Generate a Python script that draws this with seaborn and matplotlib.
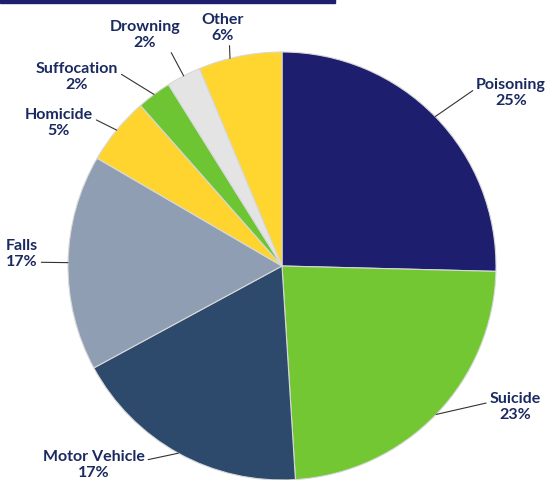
import numpy as np
import matplotlib
matplotlib.use("Agg")
import matplotlib.pyplot as plt
import seaborn as sns

sns.set_theme(style="white")
plt.rcParams['font.family'] = ['Lato', 'DejaVu Sans']

categories = ["Poisoning", "Suicide", "Motor Vehicle", "Falls", "Homicide",
              "Suffocation", "Drowning", "Other"]
values = [25.4, 23.6, 18.1, 16.3, 5.1, 2.6, 2.6, 6.3]
pct_labels = ["25%", "23%", "17%", "17%", "5%", "2%", "2%", "6%"]
colors = ["#1E1E6E", "#72C732", "#2D4A6C", "#8F9EB2", "#FFD42F",
          "#6DC534", "#E4E4E4", "#FFD530"]

W, H = 548, 481
fig = plt.figure(figsize=(W / 100, H / 100), dpi=100)
cx, cy, r = 282, 267, 214
ax = fig.add_axes([(cx - r) / W, (H - cy - r) / H, 2 * r / W, 2 * r / H])

wedges, _ = ax.pie(values, colors=colors, startangle=90, counterclock=False,
                   radius=1.0,
                   wedgeprops=dict(edgecolor="#d8d8d8", linewidth=0.8))
ax.set_xlim(-1, 1)
ax.set_ylim(-1, 1)
ax.axis("off")

# decorative top bar
fig.add_artist(plt.Rectangle((0, 1 - 4 / H), 335 / W, 4 / H,
                             transform=fig.transFigure, color="#1E1E6E",
                             clip_on=False))

# label block centres (image px) and where the leader attaches on the text box
text_pos = {
    "Poisoning": (511, 93, (0.0, 0.62)),
    "Suicide": (515, 407, (0.0, 0.62)),
    "Motor Vehicle": (94, 465, (1.0, 0.62)),
    "Falls": (22, 254, (0.95, 0.2)),
    "Homicide": (59, 123, (1.0, 0.62)),
    "Suffocation": (77, 77, (1.0, 0.62)),
    "Drowning": (145, 35, (0.8, 0.2)),
    "Other": (223, 28, (0.65, 0.0)),
}

for w, cat, pl in zip(wedges, categories, pct_labels):
    ang = np.deg2rad((w.theta1 + w.theta2) / 2)
    if cat == "Other":
        ang = np.deg2rad(w.theta1 + 0.62 * (w.theta2 - w.theta1))
    ex, ey = np.cos(ang), np.sin(ang)
    tx, ty, rel = text_pos[cat]
    ax.annotate(f"{cat}\n{pl}", xy=(ex, ey), xycoords="data",
                xytext=(tx / W, 1 - ty / H), textcoords="figure fraction",
                ha="center", va="center", fontsize=11.5, fontweight="bold",
                color="#1A2A60", linespacing=1.25,
                arrowprops=dict(arrowstyle="-", color="#333333", lw=0.8,
                                shrinkA=0, shrinkB=0, relpos=rel))

fig.savefig("out.png", dpi=100)
